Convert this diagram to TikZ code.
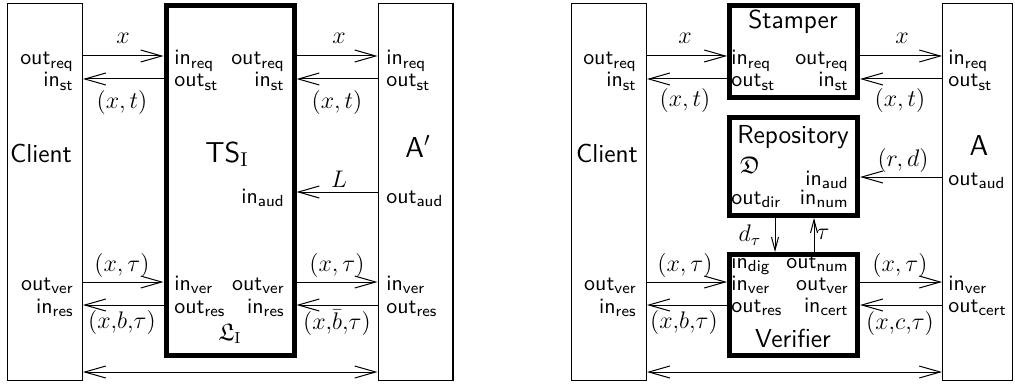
\documentclass[tikz,border=0pt]{standalone}
\usepackage{amsmath,amssymb}
\usepackage{tikz}
\usetikzlibrary{arrows.meta}
\renewcommand{\familydefault}{\sfdefault}
\newcommand{\io}[2]{#1\textsubscript{#2}}

\begin{document}
\begin{tikzpicture}[
    x=0.5pt, y=-0.5pt,
    font=\fontsize{10.95}{13}\selectfont,
    party/.style={rectangle, draw, line width=0.7pt, minimum width=37.3pt, minimum height=188.3pt, inner sep=0pt},
    func/.style={rectangle, draw, line width=2.5pt, minimum width=64pt, inner sep=0pt},
    boxname/.style={font=\fontsize{13}{15}\selectfont, inner sep=0pt},
    bigname/.style={font=\fontsize{14.4}{17}\selectfont, inner sep=0pt},
    iface/.style={inner sep=0pt},
    val/.style={font=\fontsize{12}{14}\selectfont, inner sep=0pt},
    msg/.style={-{Straight Barb[length=10.5pt,width=6pt]}, line width=0.5pt},
    shortmsg/.style={-{Straight Barb[length=6.5pt,width=3.5pt]}, line width=0.5pt},
    twoway/.style={{Straight Barb[length=10.5pt,width=6pt]}-{Straight Barb[length=10.5pt,width=6pt]}, line width=0.5pt}
]
\useasboundingbox (0,0) rectangle (1015,390);

% Rows and columns
\coordinate (req) at (0,56);
\coordinate (st) at (0,79);
\coordinate (audl) at (0,192);
\coordinate (audr) at (0,177);
\coordinate (ver) at (0,282);
\coordinate (res) at (0,305);
\coordinate (bot) at (0,372);
\coordinate (dcol) at (775,0);
\coordinate (ncol) at (814,0);

% Left: ideal functionality
\node[party] (client) at (45,192) {};
\node[boxname, anchor=base] (clientname) at (41,162) {Client};
\node[iface, anchor=base east] (c-oreq) at (74,65) {\io{out}{req}};
\node[iface, anchor=base east] (c-ist) at (74,87) {\io{in}{st}};
\node[iface, anchor=base east] (c-over) at (74,290) {\io{out}{ver}};
\node[iface, anchor=base east] (c-ires) at (74,313) {\io{in}{res}};

\node[func, minimum height=175pt] (ts) at (230,180.5) {};
\node[bigname, anchor=base] (tsname) at (227,162) {TS$_\mathrm{I}$};
\node[iface, anchor=base west] (t-ireq) at (174,65) {\io{in}{req}};
\node[iface, anchor=base west] (t-ost) at (174,87) {\io{out}{st}};
\node[iface, anchor=base east] (t-oreq) at (285,65) {\io{out}{req}};
\node[iface, anchor=base east] (t-ist) at (285,87) {\io{in}{st}};
\node[iface, anchor=base east] (t-iaud) at (285,203) {\io{in}{aud}};
\node[iface, anchor=base west] (t-iver) at (174,290) {\io{in}{ver}};
\node[iface, anchor=base west] (t-ores) at (174,313) {\io{out}{res}};
\node[iface, anchor=base east] (t-over) at (285,290) {\io{out}{ver}};
\node[iface, anchor=base east] (t-ires) at (285,313) {\io{in}{res}};
\node[val, anchor=base] (tslist) at (230,340) {$\mathfrak{L}_\mathrm{I}$};

\node[party] (advp) at (415.5,192) {};
\node[bigname, anchor=base] (advpname) at (418,157) {A$'$};
\node[iface, anchor=base west] (ap-ireq) at (386,65) {\io{in}{req}};
\node[iface, anchor=base west] (ap-ost) at (386,87) {\io{out}{st}};
\node[iface, anchor=base west] (ap-oaud) at (386,203) {\io{out}{aud}};
\node[iface, anchor=base west] (ap-iver) at (386,290) {\io{in}{ver}};
\node[iface, anchor=base west] (ap-ores) at (386,313) {\io{out}{res}};

% Left: edges
\draw[msg] (client.east |- req) -- (ts.west |- req);
\draw[msg] (ts.west |- st) -- (client.east |- st);
\draw[msg] (ts.east |- req) -- (advp.west |- req);
\draw[msg] (advp.west |- st) -- (ts.east |- st);
\draw[msg] (advp.west |- audl) -- (ts.east |- audl);
\draw[msg] (client.east |- ver) -- (ts.west |- ver);
\draw[msg] (ts.west |- res) -- (client.east |- res);
\draw[msg] (ts.east |- ver) -- (advp.west |- ver);
\draw[msg] (advp.west |- res) -- (ts.east |- res);
\draw[twoway] (client.east |- bot) -- (advp.west |- bot);

\node[val] (l-x1) at (123,38) {$x$};
\node[val] (l-xt1) at (122,102) {$(x,t)$};
\node[val] (l-x2) at (339,38) {$x$};
\node[val] (l-xt2) at (337,102) {$(x,t)$};
\node[val] (l-log) at (339,179) {$L$};
\node[val] (l-xtau1) at (122,265) {$(x,\tau)$};
\node[val] (l-xbt1) at (122,322) {$(x{,}b{,}\tau)$};
\node[val] (l-xtau2) at (337,265) {$(x,\tau)$};
\node[val] (l-xbt2) at (337,323) {$(x{,}\bar{b}{,}\tau)$};

% Right: real protocol
\node[party] (client2) at (609,192) {};
\node[boxname, anchor=base] (client2name) at (607,162) {Client};
\node[iface, anchor=base east] (c2-oreq) at (637,65) {\io{out}{req}};
\node[iface, anchor=base east] (c2-ist) at (637,87) {\io{in}{st}};
\node[iface, anchor=base east] (c2-over) at (637,290) {\io{out}{ver}};
\node[iface, anchor=base east] (c2-ires) at (637,313) {\io{in}{res}};

\node[func, minimum height=46pt] (stamper) at (793.5,51.5) {};
\node[boxname, anchor=base] (stampername) at (793,29) {Stamper};
\node[iface, anchor=base west] (s-ireq) at (731,65) {\io{in}{req}};
\node[iface, anchor=base west] (s-ost) at (731,87) {\io{out}{st}};
\node[iface, anchor=base east] (s-oreq) at (849,65) {\io{out}{req}};
\node[iface, anchor=base east] (s-ist) at (849,87) {\io{in}{st}};

\node[func, minimum height=49pt] (repo) at (793.5,166.5) {};
\node[boxname, anchor=base] (reponame) at (793,143) {Repository};
\node[val, anchor=base] (repodir) at (750,173) {$\mathfrak{D}$};
\node[iface, anchor=base east] (r-iaud) at (849,185) {\io{in}{aud}};
\node[iface, anchor=base west] (r-odir) at (731,204) {\io{out}{dir}};
\node[iface, anchor=base east] (r-inum) at (849,204) {\io{in}{num}};

\node[func, minimum height=50.5pt] (verif) at (793.5,305) {};
\node[boxname, anchor=base] (verifname) at (793,347) {Verifier};
\node[iface, anchor=base west] (v-idig) at (731,268) {\io{in}{dig}};
\node[iface, anchor=base east] (v-onum) at (849,268) {\io{out}{num}};
\node[iface, anchor=base west] (v-iver) at (731,290) {\io{in}{ver}};
\node[iface, anchor=base east] (v-over) at (849,290) {\io{out}{ver}};
\node[iface, anchor=base west] (v-ores) at (731,312) {\io{out}{res}};
\node[iface, anchor=base east] (v-icert) at (849,312) {\io{in}{cert}};

\node[party, minimum width=34.8pt] (adv) at (977.5,192) {};
\node[bigname, anchor=base] (advname) at (979,155) {A};
\node[iface, anchor=base west] (a-ireq) at (948,65) {\io{in}{req}};
\node[iface, anchor=base west] (a-ost) at (948,87) {\io{out}{st}};
\node[iface, anchor=base west] (a-oaud) at (948,185) {\io{out}{aud}};
\node[iface, anchor=base west] (a-iver) at (948,290) {\io{in}{ver}};
\node[iface, anchor=base west] (a-ocert) at (948,312) {\io{out}{cert}};

% Right: edges
\draw[msg] (client2.east |- req) -- (stamper.west |- req);
\draw[msg] (stamper.west |- st) -- (client2.east |- st);
\draw[msg] (stamper.east |- req) -- (adv.west |- req);
\draw[msg] (adv.west |- st) -- (stamper.east |- st);
\draw[msg] (adv.west |- audr) -- (repo.east |- audr);
\draw[shortmsg] (repo.south -| dcol) -- (verif.north -| dcol);
\draw[shortmsg] (verif.north -| ncol) -- (repo.south -| ncol);
\draw[msg] (client2.east |- ver) -- (verif.west |- ver);
\draw[msg] (verif.west |- res) -- (client2.east |- res);
\draw[msg] (verif.east |- ver) -- (adv.west |- ver);
\draw[msg] (adv.west |- res) -- (verif.east |- res);
\draw[twoway] (client2.east |- bot) -- (adv.west |- bot);

\node[val] (r-x1) at (685,38) {$x$};
\node[val] (r-xt1) at (685,100) {$(x,t)$};
\node[val] (r-x2) at (902,38) {$x$};
\node[val] (r-xt2) at (900,100) {$(x,t)$};
\node[val] (r-rd) at (903,160) {$(r,d)$};
\node[val] (r-dtau) at (750,235) {$d_\tau$};
\node[val] (r-tau) at (823,234) {$\tau$};
\node[val] (r-xtau1) at (685,265) {$(x,\tau)$};
\node[val] (r-xbt1) at (684,322) {$(x{,}b{,}\tau)$};
\node[val] (r-xtau2) at (900,265) {$(x,\tau)$};
\node[val] (r-xct2) at (900,323) {$(x{,}c{,}\tau)$};

\end{tikzpicture}
\end{document}
